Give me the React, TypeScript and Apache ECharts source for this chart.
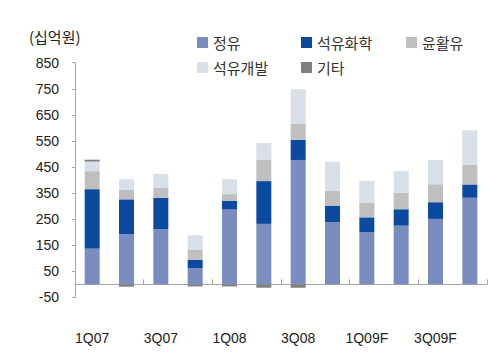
import React, { useEffect, useRef } from "react";
import * as echarts from "echarts";

const categories = ["1Q07", "2Q07", "3Q07", "4Q07", "1Q08", "2Q08", "3Q08", "4Q08", "1Q09F", "2Q09F", "3Q09F", "4Q09F"];
const refining = [137, 193, 212, 62, 287, 232, 477, 238, 200, 225, 251, 332];
const petrochem = [228, 133, 120, 32, 33, 164, 77, 64, 57, 63, 64, 51];
const lubricant = [69, 36, 39, 38, 26, 82, 61, 56, 56, 64, 69, 75];
const exploration = [37, 41, 52, 56, 57, 64, 133, 112, 83, 82, 93, 133];
const others = [7, -9, 0, -8, -8, -13, -13, 0, 0, 0, 0, 0];

const seriesNames = ["정유", "석유화학", "윤활유", "석유개발", "기타"];
const seriesData = [refining, petrochem, lubricant, exploration, others];
const colors = ["#7b8dbf", "#0b4a9e", "#bfbfbf", "#d7dfe8", "#7f7f7f"];

const legendPos = [
  { left: 192, top: 30 },
  { left: 296, top: 30 },
  { left: 401, top: 30 },
  { left: 192, top: 55 },
  { left: 296, top: 55 },
];

export default function App() {
  const ref = useRef<HTMLDivElement>(null);
  useEffect(() => {
    if (!ref.current) return;
    const chart = echarts.init(ref.current, null, { renderer: "svg" });
    const font = "'Noto Sans CJK KR', 'Liberation Sans', Arial, sans-serif";
    chart.setOption({
      animation: false,
      color: colors,
      textStyle: { fontFamily: font },
      title: {
        text: "(십억원)",
        left: 24,
        top: 24,
        textStyle: { fontSize: 15, fontWeight: "normal", color: "#222", fontFamily: font },
      },
      legend: seriesNames.map((n, i) => ({
        data: [n],
        left: legendPos[i].left,
        top: legendPos[i].top,
        icon: "rect",
        itemWidth: 11,
        itemHeight: 11,
        textStyle: { fontSize: 15, color: "#333", fontFamily: font },
        selectedMode: false,
      })),
      grid: { left: 75, right: 13, top: 62.7, bottom: 57.6, containLabel: false },
      xAxis: {
        type: "category",
        data: categories,
        axisLine: { onZero: true, lineStyle: { color: "#a6a6a6", width: 1 } },
        axisTick: { show: true, interval: 1, inside: true, length: 5, lineStyle: { color: "#a6a6a6" } },
        axisLabel: {
          interval: 1,
          margin: 34,
          fontSize: 14,
          color: "#222",
          fontFamily: "'Liberation Sans', Arial, sans-serif",
        },
      },
      yAxis: {
        type: "value",
        min: -50,
        max: 850,
        interval: 100,
        axisLine: { show: true, lineStyle: { color: "#a6a6a6" } },
        axisTick: { show: true, length: 3, lineStyle: { color: "#a6a6a6" } },
        splitLine: { show: false },
        axisLabel: {
          margin: 16,
          fontSize: 14,
          color: "#222",
          fontFamily: "'Liberation Sans', Arial, sans-serif",
        },
      },
      series: seriesNames.map((n, i) => ({
        name: n,
        type: "bar",
        stack: "total",
        barWidth: 15,
        data: seriesData[i],
        itemStyle: { color: colors[i] },
      })),
    });
    return () => chart.dispose();
  }, []);
  return <div ref={ref} style={{ width: 500, height: 355, margin: -8 }} />;
}
